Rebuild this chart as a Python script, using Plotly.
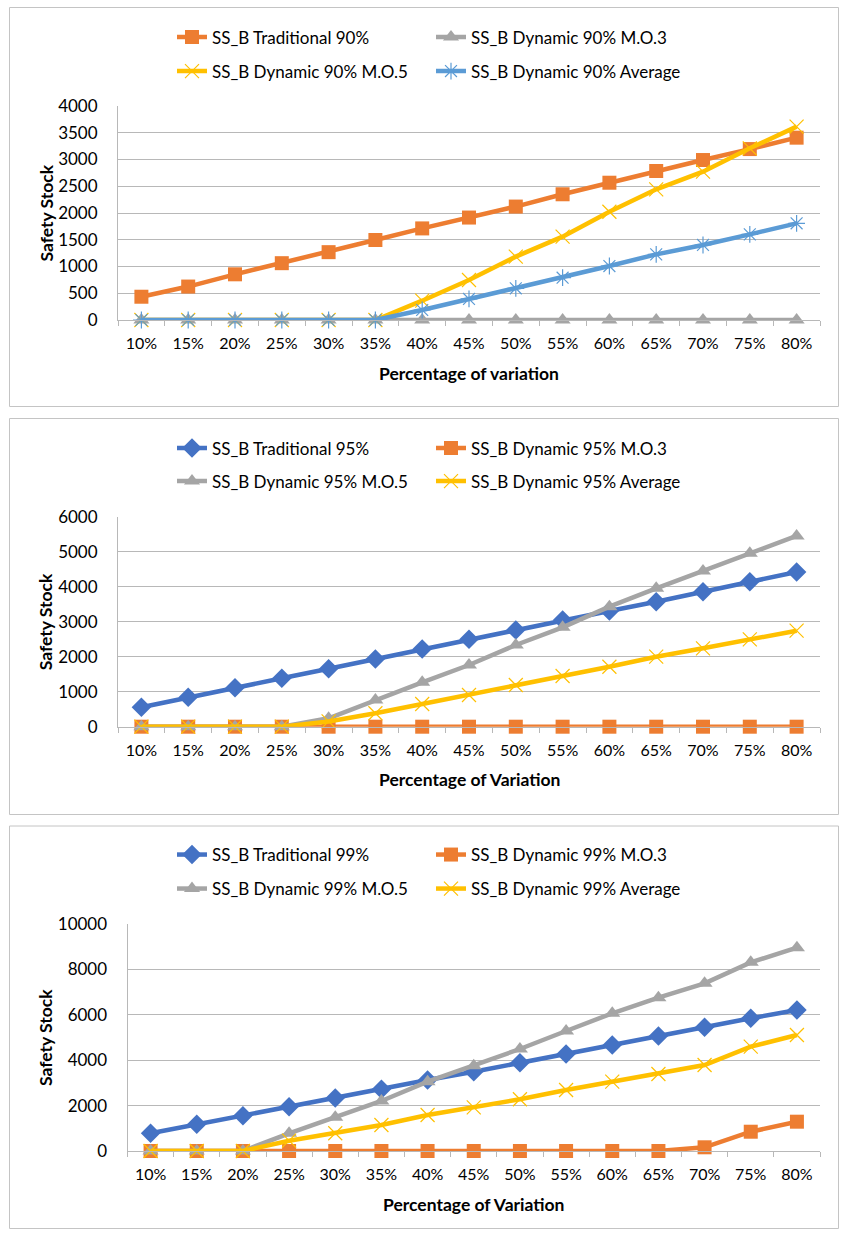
import plotly.graph_objects as go

W, H = 843, 1233

categories = ["10%", "15%", "20%", "25%", "30%", "35%", "40%", "45%",
              "50%", "55%", "60%", "65%", "70%", "75%", "80%"]

# Service level 90%
trad_90 = [435, 625, 854, 1062, 1268, 1495, 1712, 1915, 2120, 2350, 2566, 2785, 2990, 3195, 3408]
mo3_90 = [0, 0, 0, 0, 0, 0, 0, 0, 0, 0, 0, 0, 0, 0, 0]
mo5_90 = [0, 0, 0, 0, 0, 0, 361, 748, 1184, 1558, 2024, 2443, 2773, 3209, 3614]
avg_90 = [0, 0, 0, 0, 0, 0, 187, 393, 592, 791, 1009, 1227, 1402, 1601, 1807]

# Service level 95%
trad_95 = [554, 840, 1114, 1383, 1657, 1934, 2220, 2497, 2763, 3049, 3306, 3571, 3857, 4143, 4420]
mo3_95 = [0, 0, 0, 0, 0, 0, 0, 0, 0, 0, 0, 0, 0, 0, 0]
mo5_95 = [0, 0, 0, 0, 240, 763, 1269, 1763, 2334, 2840, 3429, 3954, 4449, 4954, 5449]
avg_95 = [0, 0, 0, 0, 150, 383, 649, 906, 1191, 1449, 1714, 2000, 2240, 2497, 2743]

# Service level 99%
trad_99 = [780, 1176, 1555, 1952, 2335, 2718, 3128, 3493, 3890, 4273, 4670, 5066, 5449, 5846, 6211]
mo3_99 = [0, 0, 0, 0, 0, 0, 0, 0, 0, 0, 0, 0, 163, 850, 1291]
mo5_99 = [0, 0, 0, 780, 1485, 2203, 3053, 3758, 4493, 5286, 6066, 6753, 7386, 8311, 8956]
avg_99 = [0, 0, 0, 454, 780, 1145, 1586, 1925, 2278, 2687, 3053, 3392, 3789, 4595, 5110]

ORANGE = "#ED7D31"
GRAY = "#A5A5A5"
GOLD = "#FFC000"
LBLUE = "#5B9BD5"
DBLUE = "#4472C4"

STYLE = {
    "square": dict(symbol="square", size=14),
    "triangle": dict(symbol="triangle-up", size=14),
    "diamond": dict(symbol="diamond", size=15),
    "x": dict(symbol="x-thin-open", size=14),
    "asterisk": dict(symbol="asterisk-open", size=14),
}

FONT = "Lato"
GRID = "#b8b8b8"

# panel layout in pixels: plot-area left/right/top/bottom, y-range, y-step,
# legend rows, x-title text
panels = [
    dict(px=(118, 820, 106, 320), yr=4000, dt=500, rows=(37.5, 71.5),
         xt="Percentage of variation",
         series=[("SS_B Traditional 90%", trad_90, ORANGE, "square"),
                 ("SS_B Dynamic 90% M.O.3", mo3_90, GRAY, "triangle"),
                 ("SS_B Dynamic 90% M.O.5", mo5_90, GOLD, "x"),
                 ("SS_B Dynamic 90% Average", avg_90, LBLUE, "asterisk")]),
    dict(px=(118, 820, 516.7, 726.7), yr=6000, dt=1000, rows=(448.5, 481.5),
         xt="Percentage of Variation",
         series=[("SS_B Traditional 95%", trad_95, DBLUE, "diamond"),
                 ("SS_B Dynamic 95% M.O.3", mo3_95, ORANGE, "square"),
                 ("SS_B Dynamic 95% M.O.5", mo5_95, GRAY, "triangle"),
                 ("SS_B Dynamic 95% Average", avg_95, GOLD, "x")]),
    dict(px=(127.5, 820, 924, 1151), yr=10000, dt=2000, rows=(855, 889),
         xt="Percentage of Variation",
         series=[("SS_B Traditional 99%", trad_99, DBLUE, "diamond"),
                 ("SS_B Dynamic 99% M.O.3", mo3_99, ORANGE, "square"),
                 ("SS_B Dynamic 99% M.O.5", mo5_99, GRAY, "triangle"),
                 ("SS_B Dynamic 99% Average", avg_99, GOLD, "x")]),
]

frames = [(9.5, 7.5, 838.5, 406.5), (9.5, 418.5, 838.5, 814.5), (9.5, 826, 838.5, 1228.5)]

fig = go.Figure()
layout = dict(
    width=W, height=H, margin=dict(l=0, r=0, t=0, b=0, pad=0, autoexpand=False),
    paper_bgcolor="white", plot_bgcolor="white", showlegend=True,
    font=dict(family=FONT, color="#000000"),
    shapes=[], annotations=[],
)

def px_x(v):
    return v / W

def px_y(v):
    return 1 - v / H

leg_cols = (172, 431)
leg_n = 0
for i, p in enumerate(panels):
    k = "" if i == 0 else str(i + 1)
    xa, ya = "x" + k, "y" + k
    l, r, t, b = p["px"]
    for j, (name, vals, col, mk) in enumerate(p["series"]):
        leg_n += 1
        lid = "legend" if leg_n == 1 else "legend%d" % leg_n
        st = STYLE[mk]
        marker = dict(symbol=st["symbol"], size=st["size"], color=col,
                      line=dict(width=1.2 if mk in ("x", "asterisk") else 0, color=col))
        fig.add_trace(go.Scatter(
            x=categories, y=vals, name=name, mode="lines+markers",
            line=dict(color=col, width=4.5), marker=marker,
            xaxis=xa, yaxis=ya, cliponaxis=False, legend=lid, showlegend=True,
        ))
        row, c = divmod(j, 2)
        layout[lid] = dict(
            x=px_x(leg_cols[c]), y=px_y(p["rows"][row]), xanchor="left", yanchor="middle",
            orientation="h", bgcolor="rgba(0,0,0,0)", borderwidth=0,
            font=dict(family=FONT, size=17, color="#000000"), itemwidth=30,
        )
    layout["xaxis" + k] = dict(
        domain=[px_x(l), px_x(r)], anchor=ya, type="category",
        range=[-0.5, 14.5], showgrid=False, showline=True, linecolor=GRID, linewidth=1,
        ticks="outside", tickson="boundaries", ticklen=5, tickcolor=GRID,
        tickfont=dict(family=FONT, size=16, color="#000000"), ticklabelstandoff=9,
        fixedrange=True,
    )
    layout["yaxis" + k] = dict(
        domain=[px_y(b), px_y(t)], anchor=xa, range=[0, p["yr"]], dtick=p["dt"],
        tickformat="d",
        showgrid=True, gridcolor=GRID, gridwidth=1, zeroline=False,
        showline=True, linecolor=GRID, linewidth=1, ticks="",
        tickfont=dict(family=FONT, size=17, color="#000000"), ticklabelstandoff=16,
        fixedrange=True,
    )
    layout["annotations"].append(dict(
        text="<b>Safety Stock</b>", x=px_x(45.5), y=px_y((t + b) / 2), xref="paper", yref="paper",
        textangle=-90, showarrow=False, font=dict(family=FONT, size=17.5, color="#000000"),
        xanchor="center", yanchor="middle"))
    layout["annotations"].append(dict(
        text="<b>%s</b>" % p["xt"], x=px_x((l + r) / 2), y=px_y(b + 53), xref="paper", yref="paper",
        showarrow=False, font=dict(family=FONT, size=17.5, color="#000000"),
        xanchor="center", yanchor="middle"))
    x0, y0, x1, y1 = frames[i]
    layout["shapes"].append(dict(
        type="rect", xref="paper", yref="paper", x0=px_x(x0), x1=px_x(x1),
        y0=px_y(y1), y1=px_y(y0), line=dict(color="#c4c4c4", width=1), layer="below"))

fig.update_layout(**layout)
fig.write_html("out.html", config={"displayModeBar": False})
